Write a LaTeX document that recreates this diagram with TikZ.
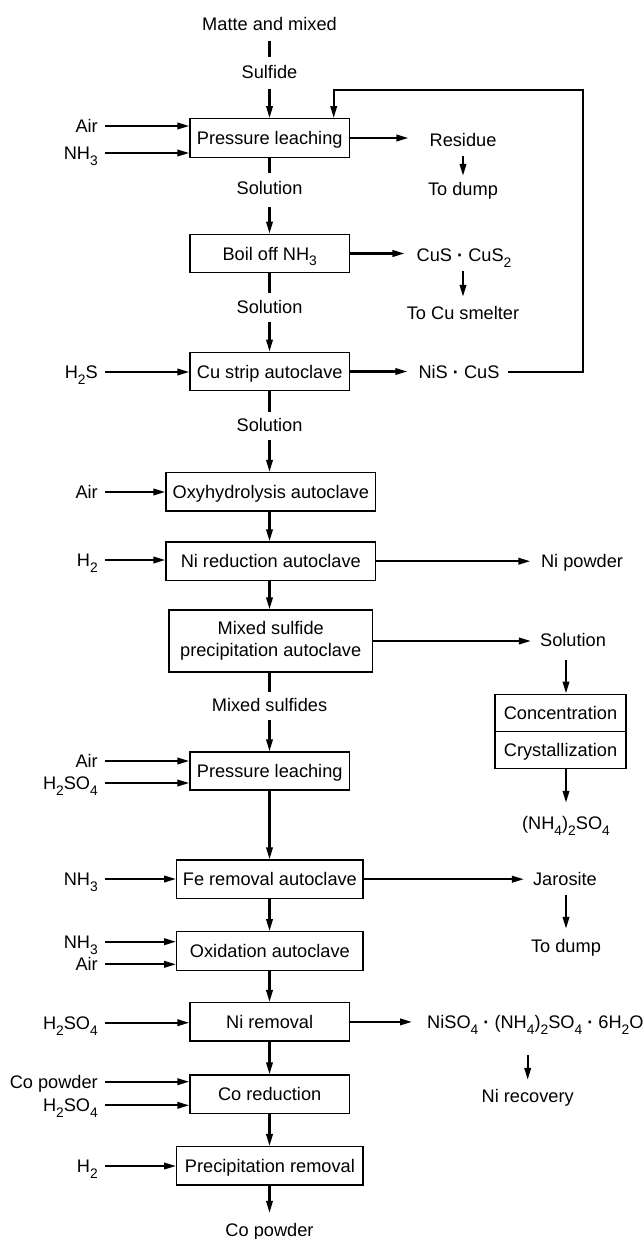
\documentclass[tikz,border=0pt]{standalone}
\usepackage{fontspec}
\setmainfont{Liberation Sans}
\usetikzlibrary{arrows.meta}
\newcommand\sbs[1]{\raisebox{-0.32em}{\fontsize{13.8}{13.8}\selectfont #1}}
\newcommand\mdot{\textbf{·}}
\tikzset{
  box/.style={draw, line width=1.4pt, inner sep=0pt, minimum height=38.5pt, text height=13pt, text depth=0pt},
  tbox/.style={draw, line width=1.4pt, inner sep=0pt, align=center},
  t/.style={inner sep=0pt, text height=13pt, text depth=0pt},
  lab/.style={t, anchor=east},
  flow/.style={line width=2.1pt, -{Triangle[length=12pt,width=6.5pt]}},
  plain/.style={line width=2.1pt},
}
\begin{document}
\begin{tikzpicture}[x=1pt,y=-1pt, font=\fontsize{18.2}{22}\selectfont]
\useasboundingbox (0,0) rectangle (643,1239);

% main column boxes
\node[box, minimum width=159.4pt] (pl1) at (269.7,138) {Pressure leaching};
\node[box, minimum width=159.4pt] (boil) at (269.7,253.5) {Boil off NH\sbs{3}};
\node[box, minimum width=159.4pt] (cus) at (269.7,371.5) {Cu strip autoclave};
\node[box, minimum width=209.6pt] (oxy) at (270.8,491.8) {Oxyhydrolysis autoclave};
\node[box, minimum width=209.6pt] (nired) at (270.8,561.2) {Ni reduction autoclave};
\node[tbox, minimum width=203.3pt, minimum height=62pt] (msp) at (270.7,641) {Mixed sulfide\\precipitation autoclave};
\node[box, minimum width=159.4pt, minimum height=38pt] (pl2) at (269.7,771) {Pressure leaching};
\node[box, minimum width=186.3pt] (fe) at (269.9,879.2) {Fe removal autoclave};
\node[box, minimum width=186.3pt] (ox) at (269.9,951) {Oxidation autoclave};
\node[box, minimum width=159.4pt] (nirem) at (269.7,1021.9) {Ni removal};
\node[box, minimum width=159.4pt] (cored) at (269.7,1094.2) {Co reduction};
\node[box, minimum width=186.3pt] (prec) at (269.9,1165.9) {Precipitation removal};

% main column texts
\node[t] (matte) at (269.5,24) {Matte and mixed};
\node[t] (sulf) at (269.5,71.5) {Sulfide};
\node[t] (sol1) at (269.5,188) {Solution};
\node[t] (sol2) at (269.5,307) {Solution};
\node[t] (sol3) at (269.5,425) {Solution};
\node[t] (mixs) at (269.5,705) {Mixed sulfides};
\node[t] (copow) at (269.5,1230) {Co powder};

% main column connectors
\draw[plain, shorten <=10.5pt, shorten >=8pt] (matte) -- (sulf);
\draw[flow, shorten <=11pt] (sulf.south) -- (sulf.south |- pl1.north);
\draw[plain, shorten >=8.5pt] (pl1.south -| sol1) -- (sol1.north);
\draw[flow, shorten <=12.5pt] (sol1.south) -- (sol1.south |- boil.north);
\draw[plain, shorten >=7.5pt] (boil.south -| sol2) -- (sol2.north);
\draw[flow, shorten <=8pt] (sol2.south) -- (sol2.south |- cus.north);
\draw[plain, shorten >=6.5pt] (cus.south -| sol3) -- (sol3.north);
\draw[flow, shorten <=8.5pt] (sol3.south) -- (sol3.south |- oxy.north);
\draw[flow] (oxy.south -| sol3) -- (nired.north -| sol3);
\draw[flow] (nired.south -| sol3) -- (msp.north -| sol3);
\draw[plain, shorten >=6.5pt] (msp.south -| mixs) -- (mixs.north);
\draw[flow, shorten <=8.5pt] (mixs.south) -- (mixs.south |- pl2.north);
\draw[flow] (pl2.south -| mixs) -- (fe.north -| mixs);
\draw[flow] (fe.south -| mixs) -- (ox.north -| mixs);
\draw[flow] (ox.south -| mixs) -- (nirem.north -| mixs);
\draw[flow] (nirem.south -| mixs) -- (cored.north -| mixs);
\draw[flow] (cored.south -| mixs) -- (prec.north -| mixs);
\draw[flow, shorten >=10.5pt] (prec.south -| copow) -- (copow.north);

% left inputs
\node[lab] (in1) at (98,126) {Air};
\node[lab] (in2) at (98,153) {NH\sbs{3}};
\node[lab] (in3) at (98,372) {H\sbs{2}S};
\node[lab] (in4) at (98,492) {Air};
\node[lab] (in5) at (98,560) {H\sbs{2}};
\node[lab] (in6) at (98,761) {Air};
\node[lab] (in7) at (98,783) {H\sbs{2}SO\sbs{4}};
\node[lab] (in8) at (98,879) {NH\sbs{3}};
\node[lab] (in9) at (98,941.7) {NH\sbs{3}};
\node[lab] (in10) at (98,964.3) {Air};
\node[lab] (in11) at (98,1022.7) {H\sbs{2}SO\sbs{4}};
\node[lab] (in12) at (98,1081.7) {Co powder};
\node[lab] (in13) at (98,1105.3) {H\sbs{2}SO\sbs{4}};
\node[lab] (in14) at (98,1166) {H\sbs{2}};
\foreach \i/\b in {1/pl1,2/pl1,3/cus,4/oxy,5/nired,6/pl2,7/pl2,8/fe,9/ox,10/ox,11/nirem,12/cored,13/cored,14/prec}
  \draw[flow, shorten <=7pt] (in\i.east) -- (in\i.east -| \b.west);

% right side
\node[t] (res) at (463,139.5) {Residue};
\node[t] (dump1) at (463,189) {To dump};
\node[t] (cus2) at (464,255) {CuS \mdot{} CuS\sbs{2}};
\node[t] (smelt) at (463,313) {To Cu smelter};
\node[t] (nis) at (459,372) {NiS \mdot{} CuS};
\node[t] (nipow) at (582,561) {Ni powder};
\node[t] (sol4) at (573,640) {Solution};
\node[draw, line width=1.4pt, inner sep=0pt, minimum width=131pt, minimum height=37pt, text height=13pt, text depth=0pt] (conc) at (560.5,712.7) {Concentration};
\node[draw, line width=1.4pt, inner sep=0pt, minimum width=131pt, minimum height=37pt, text height=13pt, text depth=0pt] (cryst) at (560.5,749.7) {Crystallization};
\node[t] (amsul) at (566,823) {(NH\sbs{4})\sbs{2}SO\sbs{4}};
\node[t] (jar) at (565,879) {Jarosite};
\node[t] (dump2) at (566,946) {To dump};
\node[t, anchor=west] (nis2) at (427,1022) {NiSO\sbs{4} \mdot{} (NH\sbs{4})\sbs{2}SO\sbs{4} \mdot{} 6H\sbs{2}O};
\node[t] (nirec) at (527.7,1096) {Ni recovery};

\draw[flow] (pl1.east) -- ([xshift=-21pt]res.west |- pl1.east);
\draw[flow, shorten <=10pt, shorten >=6.5pt] (res.south -| dump1) -- (dump1.north);
\draw[flow] (boil.east) -- ([xshift=-12pt]cus2.west |- boil.east);
\draw[flow, shorten <=9.5pt, shorten >=9.5pt] (cus2.south -| smelt) -- (smelt.north);
\draw[flow] (cus.east) -- ([xshift=-11pt]nis.west |- cus.east);
\coordinate (rc) at (582.7,90);
\draw[flow, shorten <=8pt] (nis.east) -| (rc) -| ([xshift=-16.4pt]pl1.north east);
\draw[flow] (nired.east) -- ([xshift=-10.5pt]nipow.west |- nired.east);
\draw[flow] (msp.east) -- ([xshift=-9pt]sol4.west |- msp.east);
\draw[flow, shorten <=13.5pt] ([xshift=5.5pt]conc.north |- sol4.south) -- ([xshift=5.5pt]conc.north);
\draw[flow, shorten >=13.5pt] ([xshift=5.5pt]cryst.south) -- ([xshift=5.5pt]cryst.south |- amsul.north);
\draw[flow] (fe.east) -- ([xshift=-9pt]jar.west |- fe.east);
\draw[flow, shorten <=9.5pt, shorten >=10.5pt] (jar.south -| dump2) -- (dump2.north);
\draw[flow] (nirem.east) -- ([xshift=-15pt]nis2.west |- nirem.east);
\draw[flow, shorten <=26.5pt, shorten >=9.5pt] (nirec.north |- nis2.south) -- (nirec.north);
\end{tikzpicture}
\end{document}
